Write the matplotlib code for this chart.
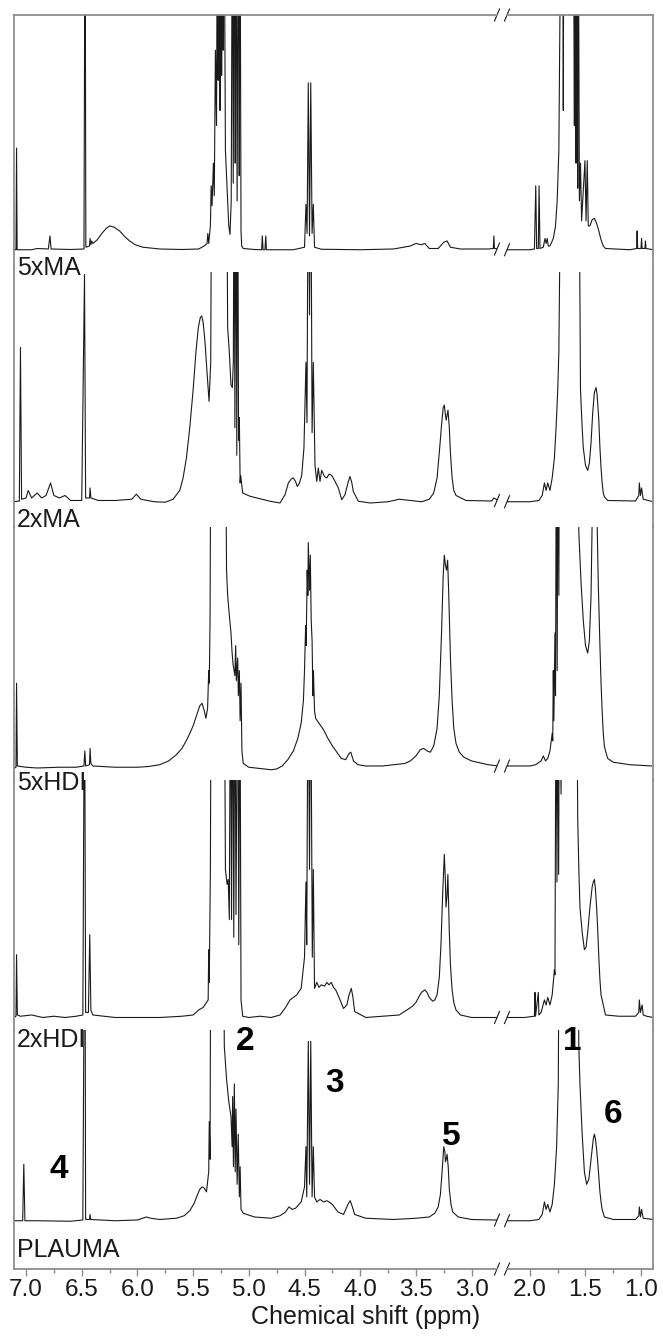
import matplotlib
matplotlib.use("Agg")
import matplotlib.pyplot as plt
import matplotlib.transforms as mtransforms
from matplotlib.ticker import MultipleLocator, FormatStrFormatter

plt.rcParams['font.family'] = ['Liberation Sans Narrow', 'Liberation Sans', 'DejaVu Sans']

# spectra: (ppm, intensity) vertices, 150 = off scale
ma5_left = [
    (7.11, 0.5), (7.09, 0.5), (7.085, 41), (7.08, 0.5), (6.95, 0.5), (6.90, 1),
    (6.80, 0.8), (6.785, 6), (6.775, 0.8), (6.60, 0.6),
    (6.48, 0.8), (6.47, 150), (6.463, 1.5), (6.43, 2), (6.425, 5), (6.418, 2.5), (6.41, 4), (6.40, 3),
    (6.36, 4.5), (6.32, 7), (6.28, 9), (6.25, 10), (6.21, 9.5), (6.16, 8), (6.12, 6), (6.07, 4),
    (6.02, 2.5), (5.95, 1.5), (5.80, 0.8),
    (5.60, 0.6), (5.45, 0.8), (5.40, 2), (5.375, 3), (5.368, 7), (5.36, 3), (5.345, 10), (5.338, 26),
    (5.33, 18), (5.318, 35), (5.31, 22), (5.30, 80), (5.29, 50), (5.282, 150), (5.275, 68), (5.268, 150),
    (5.258, 56), (5.25, 150), (5.244, 70), (5.237, 150), (5.23, 80), (5.222, 150), (5.21, 40), (5.193, 23),
    (5.18, 10), (5.169, 6.6), (5.158, 20), (5.148, 150), (5.14, 27), (5.13, 150), (5.122, 35), (5.115, 150),
    (5.105, 20), (5.094, 150), (5.086, 30), (5.079, 150), (5.07, 8), (5.064, 2), (5.05, 1), (4.95, 0.6),
    (4.885, 0.5), (4.879, 6), (4.872, 0.5), (4.855, 0.5), (4.848, 6), (4.842, 0.5),
    (4.60, 0.5), (4.50, 1.5), (4.487, 18.6), (4.477, 7), (4.466, 67), (4.455, 6), (4.444, 67),
    (4.432, 7), (4.421, 18.6), (4.41, 1.5), (4.35, 0.7),
    (4.0, 0.5), (3.70, 0.8), (3.55, 2), (3.50, 3), (3.45, 2.5), (3.42, 3), (3.38, 1), (3.30, 1),
    (3.25, 3.5), (3.22, 4), (3.19, 1.5), (3.10, 0.8), (2.85, 0.8), (2.805, 1), (2.80, 6), (2.795, 1),
    (2.75, 0.8)]
ma5_right = [
    (2.21, 0.5), (2.0, 0.5), (1.96, 0.8), (1.948, 26), (1.94, 1), (1.925, 1), (1.918, 26), (1.91, 1),
    (1.88, 1.5), (1.865, 5), (1.855, 3), (1.845, 5), (1.835, 2), (1.82, 2), (1.79, 5), (1.77, 10),
    (1.755, 20), (1.74, 40), (1.72, 150), (1.705, 150), (1.70, 56), (1.695, 150), (1.61, 150), (1.60, 50),
    (1.595, 150), (1.585, 35), (1.58, 150), (1.57, 25), (1.565, 150), (1.555, 20), (1.545, 35),
    (1.535, 12), (1.505, 36), (1.495, 12), (1.484, 36), (1.475, 10), (1.46, 10), (1.44, 12.5),
    (1.42, 13), (1.40, 11), (1.38, 8), (1.36, 4.5), (1.34, 2), (1.32, 1), (1.1, 0.5), (1.04, 1),
    (1.035, 8), (1.03, 1), (1.0, 1), (0.995, 5), (0.99, 1), (0.965, 1), (0.96, 4), (0.955, 1),
    (0.89, 0.5)]

ma2_left = [
    (7.11, 0.5), (7.06, 0.8), (7.05, 62), (7.04, 1.5), (7.0, 2), (6.98, 5), (6.95, 2), (6.90, 4),
    (6.86, 2), (6.82, 3), (6.78, 8), (6.75, 3), (6.70, 2), (6.65, 3), (6.60, 1), (6.50, 1),
    (6.475, 91), (6.465, 2), (6.43, 2), (6.425, 6), (6.418, 2), (6.35, 1), (6.2, 1), (6.05, 1.5),
    (6.01, 3.5), (5.97, 1.5), (5.85, 0.5), (5.75, 0.3), (5.68, 1.5), (5.62, 5), (5.59, 10),
    (5.56, 18), (5.53, 30), (5.50, 45), (5.475, 60), (5.453, 70), (5.435, 74), (5.423, 74.5),
    (5.41, 72), (5.393, 64), (5.375, 52), (5.357, 40.5), (5.342, 56), (5.333, 150), (5.20, 150),
    (5.19, 70), (5.175, 60), (5.16, 47), (5.148, 46), (5.139, 56), (5.132, 150), (5.125, 30),
    (5.115, 150), (5.108, 19), (5.10, 150), (5.092, 25), (5.085, 34), (5.078, 8), (5.073, 11),
    (5.055, 4), (4.99, 2.7), (4.81, 0.7), (4.72, 0), (4.675, 3.3), (4.645, 8), (4.62, 9.5),
    (4.60, 10), (4.58, 8.5), (4.565, 6.6), (4.545, 8), (4.525, 11), (4.505, 22), (4.487, 56),
    (4.478, 32), (4.466, 150), (4.455, 75), (4.444, 150), (4.432, 28), (4.421, 56), (4.406, 15),
    (4.39, 8.6), (4.376, 14), (4.361, 8.6), (4.346, 13), (4.32, 10.5), (4.30, 10), (4.28, 11.5),
    (4.256, 11), (4.226, 8.6), (4.196, 6), (4.166, 1.3), (4.137, 3.3), (4.11, 8), (4.092, 10.6),
    (4.075, 8), (4.062, 4.6), (4.017, 0.7), (3.91, 0), (3.75, 0.5), (3.65, 1.5), (3.55, 1),
    (3.45, 0.5), (3.38, 1.5), (3.34, 4), (3.31, 10), (3.29, 20), (3.27, 31), (3.255, 38),
    (3.245, 39), (3.235, 35), (3.228, 33), (3.22, 35), (3.212, 37), (3.20, 30), (3.19, 20),
    (3.175, 10), (3.16, 5), (3.14, 3), (3.05, 1), (2.82, 0.8), (2.80, 2), (2.76, 1)]
ma2_right = [
    (2.21, 0.5), (2.0, 0.5), (1.92, 1), (1.89, 3), (1.87, 8), (1.855, 5), (1.84, 8), (1.82, 5),
    (1.80, 10), (1.78, 18), (1.765, 30), (1.75, 45), (1.74, 60), (1.72, 150), (1.56, 150),
    (1.545, 45), (1.53, 30), (1.52, 22), (1.50, 15), (1.48, 13), (1.465, 16), (1.45, 24),
    (1.435, 36), (1.42, 44), (1.405, 46), (1.395, 43), (1.38, 33), (1.37, 22), (1.36, 14),
    (1.35, 8), (1.34, 4), (1.33, 2.5), (1.30, 1), (1.05, 0.8), (1.02, 3), (1.015, 8), (1.005, 3),
    (0.995, 6), (0.98, 1.5), (0.89, 0.5)]

hdi5_left = [
    (7.11, 1), (7.09, 1.5), (7.085, 35), (7.078, 2), (7.0, 1.5), (6.9, 1.2), (6.7, 1.5), (6.55, 1.5),
    (6.48, 2), (6.472, 8), (6.465, 2), (6.43, 2.5), (6.425, 9), (6.418, 3), (6.40, 2), (6.2, 1.5),
    (6.0, 1.5), (5.90, 1.8), (5.80, 2.5), (5.72, 4), (5.65, 6.5), (5.60, 9), (5.55, 13), (5.50, 18),
    (5.47, 22), (5.44, 26), (5.42, 27), (5.40, 24), (5.385, 21), (5.37, 25), (5.36, 40), (5.355, 35),
    (5.348, 60), (5.34, 150), (5.21, 150), (5.20, 80), (5.19, 70), (5.175, 62), (5.16, 55),
    (5.15, 47), (5.14, 42), (5.125, 38), (5.118, 50), (5.112, 36), (5.10, 45), (5.094, 30),
    (5.085, 40), (5.078, 20), (5.07, 35), (5.062, 8), (5.05, 3), (5.0, 1.5), (4.9, 1), (4.8, 0.5),
    (4.75, 0.8), (4.70, 2), (4.65, 4.5), (4.60, 8), (4.56, 13), (4.53, 19), (4.51, 28), (4.50, 40),
    (4.49, 58), (4.485, 50), (4.476, 80), (4.47, 70), (4.466, 91), (4.455, 72), (4.448, 86),
    (4.44, 60), (4.432, 52), (4.425, 30), (4.42, 40), (4.41, 24), (4.40, 21), (4.37, 19),
    (4.33, 16.5), (4.29, 13), (4.25, 10), (4.21, 7.5), (4.17, 5), (4.13, 4.5), (4.10, 7),
    (4.085, 7.5), (4.06, 4), (4.02, 2.5), (3.95, 2), (3.80, 2), (3.70, 2.5), (3.60, 3), (3.55, 4),
    (3.50, 6), (3.46, 8.5), (3.43, 9), (3.40, 8), (3.37, 7.5), (3.34, 10), (3.31, 17), (3.29, 30),
    (3.27, 55), (3.255, 78), (3.245, 86), (3.235, 82), (3.225, 80), (3.215, 84), (3.205, 70),
    (3.19, 45), (3.175, 28), (3.16, 17), (3.14, 11), (3.11, 7.5), (3.07, 5.5), (3.0, 4),
    (2.95, 3.5), (2.85, 2.5), (2.76, 2)]
hdi5_right = [
    (2.21, 2), (2.1, 2), (2.0, 2), (1.95, 2.5), (1.90, 4), (1.88, 6), (1.86, 4), (1.84, 5),
    (1.82, 8), (1.80, 15), (1.795, 12), (1.79, 40), (1.785, 20), (1.775, 55), (1.77, 30),
    (1.762, 150), (1.755, 40), (1.748, 150), (1.74, 70), (1.735, 150), (1.57, 150), (1.56, 95),
    (1.54, 75), (1.52, 60), (1.50, 50), (1.48, 47), (1.465, 52), (1.45, 70), (1.44, 100),
    (1.42, 150), (1.40, 110), (1.385, 75), (1.37, 50), (1.36, 35), (1.35, 24), (1.34, 15),
    (1.33, 10), (1.32, 8), (1.30, 5), (1.25, 3.5), (1.1, 2.5), (0.9, 2)]

hdi2_left = [
    (7.11, 1), (7.09, 1.5), (7.085, 26), (7.078, 2), (7.05, 1.5), (6.95, 2), (6.85, 1), (6.75, 1.5),
    (6.65, 1), (6.55, 1.5), (6.49, 2), (6.475, 150), (6.465, 3), (6.44, 3), (6.428, 34), (6.418, 4),
    (6.40, 2), (6.2, 1), (6.0, 1), (5.8, 1), (5.6, 1.5), (5.50, 2), (5.45, 4), (5.41, 5), (5.38, 7),
    (5.365, 8), (5.36, 28), (5.355, 15), (5.345, 60), (5.338, 150), (5.22, 150), (5.21, 60),
    (5.195, 54), (5.185, 56), (5.175, 40), (5.165, 150), (5.155, 40), (5.145, 150), (5.135, 33),
    (5.125, 150), (5.115, 42), (5.10, 150), (5.09, 30), (5.08, 150), (5.07, 8), (5.055, 1.5),
    (5.0, 1), (4.9, 1.5), (4.8, 1), (4.72, 2), (4.67, 5), (4.63, 8), (4.60, 9), (4.57, 10),
    (4.53, 12.6), (4.50, 25), (4.487, 55), (4.48, 30), (4.468, 150), (4.455, 60), (4.445, 150),
    (4.43, 25), (4.421, 60), (4.41, 12.6), (4.39, 15), (4.37, 13), (4.35, 14), (4.32, 13.5),
    (4.30, 15), (4.28, 14), (4.26, 15), (4.24, 13), (4.22, 12), (4.19, 9), (4.15, 4.6), (4.12, 6),
    (4.10, 10), (4.08, 12.6), (4.065, 9), (4.05, 3.4), (3.95, 1), (3.80, 1.5), (3.65, 2),
    (3.58, 4), (3.53, 5.5), (3.50, 7), (3.47, 9.5), (3.45, 11), (3.42, 12), (3.40, 11), (3.38, 9),
    (3.35, 7.5), (3.33, 8), (3.31, 10), (3.29, 17), (3.275, 30), (3.26, 50), (3.245, 66),
    (3.235, 55), (3.23, 45), (3.22, 50), (3.213, 58), (3.20, 35), (3.19, 22), (3.175, 12),
    (3.16, 7), (3.14, 4), (3.10, 2), (3.0, 1), (2.85, 1), (2.76, 1)]
hdi2_right = [
    (2.21, 1), (2.05, 1), (1.96, 1.5), (1.955, 11), (1.95, 1.5), (1.925, 11), (1.92, 2), (1.90, 3),
    (1.87, 8), (1.855, 6), (1.84, 9), (1.82, 6), (1.80, 10), (1.78, 20), (1.775, 18), (1.765, 150),
    (1.757, 55), (1.75, 150), (1.742, 58), (1.735, 150), (1.72, 90), (1.715, 150), (1.58, 150),
    (1.57, 80), (1.56, 60), (1.55, 45), (1.53, 35), (1.51, 28), (1.495, 29), (1.48, 35), (1.46, 45),
    (1.44, 53), (1.43, 55), (1.42, 56), (1.41, 52), (1.40, 45), (1.39, 36), (1.38, 25), (1.37, 16),
    (1.36, 10), (1.34, 6), (1.32, 2), (1.2, 1.5), (1.05, 1.5), (1.02, 3), (1.015, 8), (1.005, 3),
    (0.99, 6), (0.98, 2), (0.95, 1.5), (0.89, 1)]

plauma_left = [
    (7.11, 0.5), (7.03, 0.5), (7.02, 23), (7.01, 0.5), (6.9, 0.5), (6.6, 0.3), (6.49, 0.8),
    (6.472, 150), (6.465, 1), (6.43, 1), (6.425, 3), (6.42, 1), (6.2, 0.5), (6.0, 0.8), (5.92, 2),
    (5.88, 1.5), (5.8, 1), (5.65, 1.5), (5.58, 2.5), (5.53, 4.5), (5.49, 7.5), (5.46, 11),
    (5.44, 13), (5.42, 14), (5.40, 13.5), (5.38, 12), (5.36, 20), (5.355, 40), (5.348, 25),
    (5.34, 150), (5.23, 150), (5.22, 70), (5.20, 57), (5.18, 48), (5.16, 42), (5.15, 30),
    (5.145, 50), (5.138, 22), (5.13, 55), (5.122, 20), (5.115, 45), (5.105, 15), (5.095, 35),
    (5.085, 10), (5.078, 22), (5.07, 5), (5.05, 3.5), (4.95, 2), (4.8, 1.5), (4.72, 2.5),
    (4.67, 4), (4.64, 6), (4.61, 5), (4.58, 5.5), (4.53, 8), (4.50, 14), (4.487, 30), (4.48, 10),
    (4.466, 72), (4.455, 15), (4.444, 72), (4.432, 10), (4.421, 30), (4.41, 10), (4.39, 8),
    (4.36, 9), (4.33, 8), (4.30, 8.5), (4.28, 8), (4.25, 7), (4.20, 4), (4.15, 3), (4.11, 7),
    (4.09, 8.5), (4.07, 6), (4.05, 3), (3.95, 1.5), (3.7, 1), (3.5, 1.5), (3.38, 2), (3.33, 3.5),
    (3.30, 6), (3.28, 11), (3.265, 20), (3.25, 30), (3.24, 28), (3.235, 24), (3.228, 25),
    (3.22, 27), (3.21, 22), (3.20, 13), (3.185, 7), (3.17, 4), (3.12, 2), (3.0, 1),
    (2.8, 0.8), (2.76, 0.8)]
plauma_right = [
    (2.21, 0.5), (2.0, 0.5), (1.92, 1), (1.89, 3), (1.87, 8), (1.855, 5), (1.84, 7), (1.82, 4),
    (1.80, 7), (1.78, 15), (1.76, 30), (1.745, 55), (1.735, 150), (1.575, 150), (1.56, 70),
    (1.55, 55), (1.545, 50), (1.53, 35), (1.51, 20), (1.49, 15), (1.47, 17), (1.45, 25), (1.43, 33),
    (1.42, 35), (1.41, 33), (1.40, 29), (1.39, 24), (1.38, 18), (1.37, 12), (1.36, 8), (1.35, 5),
    (1.33, 2), (1.25, 1), (1.05, 1), (1.02, 2.5), (1.015, 6), (1.005, 2), (0.995, 5), (0.98, 1.5),
    (0.89, 1)]

samples = ['5xMA', '2xMA', '5xHDI', '2xHDI', 'PLAUMA']
left_traces = [ma5_left, ma2_left, hdi5_left, hdi2_left, plauma_left]
right_traces = [ma5_right, ma2_right, hdi5_right, hdi2_right, plauma_right]

# peak numbers in the PLAUMA panel: (label, ppm, intensity)
peak_labels = [('4', 6.71, 21), ('2', 5.03, 72), ('3', 4.23, 55), ('5', 3.18, 34),
               ('1', 1.62, 72), ('6', 1.25, 43)]

W, H = 663, 1336
fig = plt.figure(figsize=(W / 100, H / 100), dpi=100)

tops = [15, 272, 527, 780, 1030]
bots = [272, 527, 780, 1030, 1269]
bases = [251, 503, 771, 1020, 1222]
unit = 2.51
cols = [(14, 497, (7.108, 2.772)), (507, 653, (2.207, 0.892))]
frame = '#8c8c8c'
ink = '#1a1a1a'

axes = {}
for i in range(5):
    for c, (x0, x1, lim) in enumerate(cols):
        ax = fig.add_axes([x0 / W, 1 - bots[i] / H, (x1 - x0) / W, (bots[i] - tops[i]) / H])
        ax.patch.set_visible(False)
        tr = left_traces[i] if c == 0 else right_traces[i]
        ax.plot([p for p, v in tr], [v for p, v in tr], color=ink, lw=0.8)
        ax.set_xlim(lim)
        ax.set_ylim(-(bots[i] - bases[i]) / unit, (bases[i] - tops[i]) / unit)
        ax.set_yticks([])
        for s in ax.spines.values():
            s.set_visible(False)
            s.set_color(frame)
            s.set_linewidth(1.3)
        ax.spines['left' if c == 0 else 'right'].set_visible(True)
        if i == 0:
            ax.spines['top'].set_visible(True)
        if i == 4:
            ax.spines['bottom'].set_visible(True)
            ax.xaxis.set_major_locator(MultipleLocator(0.5))
            ax.xaxis.set_minor_locator(MultipleLocator(0.25))
            ax.xaxis.set_major_formatter(FormatStrFormatter('%.1f'))
            ax.tick_params(axis='x', which='both', direction='out', color=frame,
                           labelsize=17.5, labelcolor=ink, pad=2)
            ax.tick_params(axis='x', which='major', length=5, width=1)
            ax.tick_params(axis='x', which='minor', length=3, width=1)
        else:
            ax.set_xticks([])
        # break marks on the trace
        xe = 1 if c == 0 else 0
        ye = tr[-1][1] if c == 0 else tr[0][1]
        dx = 2.5 / (x1 - x0)
        bt = mtransforms.blended_transform_factory(ax.transAxes, ax.transData)
        ax.plot([xe - dx, xe + dx], [ye - 2.4, ye + 2.4], color=ink, lw=0.8,
                transform=bt, clip_on=False)
        # break marks on the frame
        hy = 6 / (bots[i] - tops[i])
        if i == 0:
            ax.plot([xe - dx, xe + dx], [1 - hy, 1 + hy], color=ink, lw=0.8,
                    transform=ax.transAxes, clip_on=False)
        if i == 4:
            ax.plot([xe - dx, xe + dx], [-hy, hy], color=ink, lw=0.8,
                    transform=ax.transAxes, clip_on=False)
        axes[(i, c)] = ax

label_y = [268, 520, 783, 1040, 1250]
for name, y in zip(samples, label_y):
    fig.text(17 / W, 1 - y / H, name, fontsize=18, color=ink, va='center', ha='left')

for lab, ppm, v in peak_labels:
    ax = axes[(4, 0)] if ppm > 2.5 else axes[(4, 1)]
    ax.text(ppm, v, lab, fontsize=24, fontweight='bold', family=['Liberation Sans', 'DejaVu Sans'],
            color='black', ha='center', va='center', clip_on=False)

fig.text(366 / W, 1 - 1317 / H, 'Chemical shift (ppm)', fontsize=18, color=ink,
         ha='center', va='center')

fig.savefig('out.png', dpi=100)
